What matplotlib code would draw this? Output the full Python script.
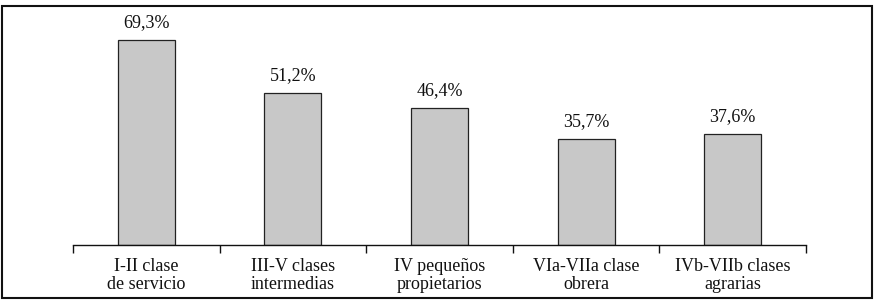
import matplotlib
matplotlib.use("Agg")
import matplotlib.pyplot as plt
from matplotlib.patches import Rectangle

categories = ["I-II clase\nde servicio", "III-V clases\nintermedias", "IV pequeños\npropietarios",
              "VIa-VIIa clase\nobrera", "IVb-VIIb clases\nagrarias"]
values = [69.3, 51.2, 46.4, 35.7, 37.6]
value_labels = ["69,3%", "51,2%", "46,4%", "35,7%", "37,6%"]

plt.rcParams['font.family'] = ['Liberation Serif', 'DejaVu Serif']

fig = plt.figure(figsize=(8.74, 3.03), dpi=100)
ax = fig.add_axes([73/874, 58/303, 733/874, 236.8/303])

x = list(range(len(categories)))
bars = ax.bar(x, values, width=0.39, color="#c8c8c8", edgecolor="#222222", linewidth=0.9)
for xi, v, lab in zip(x, values, value_labels):
    ax.annotate(lab, (xi, v), xytext=(0, 6.5), textcoords="offset points",
                ha="center", va="bottom", fontsize=13, color="#111111")

ax.set_xlim(-0.5, len(categories) - 0.5)
ax.set_ylim(0, 80)
for s in ["top", "right", "left"]:
    ax.spines[s].set_visible(False)
ax.spines["bottom"].set_linewidth(1.0)
ax.spines["bottom"].set_color("#111111")
ax.set_yticks([])

ax.set_xticks([i - 0.5 for i in range(len(categories) + 1)])
ax.set_xticklabels([])
ax.tick_params(axis="x", direction="out", length=6, width=1.0, color="#111111")
ax.set_xticks(x, minor=True)
ax.set_xticklabels(categories, minor=True, fontsize=13, color="#111111", linespacing=1.1)
ax.tick_params(axis="x", which="minor", length=0, pad=9.5)

fig.patches.append(Rectangle((2/874, 5/303), 870/874, 292/303, transform=fig.transFigure,
                             fill=False, edgecolor="#111111", linewidth=1.5))

fig.savefig("out.png", dpi=100)
